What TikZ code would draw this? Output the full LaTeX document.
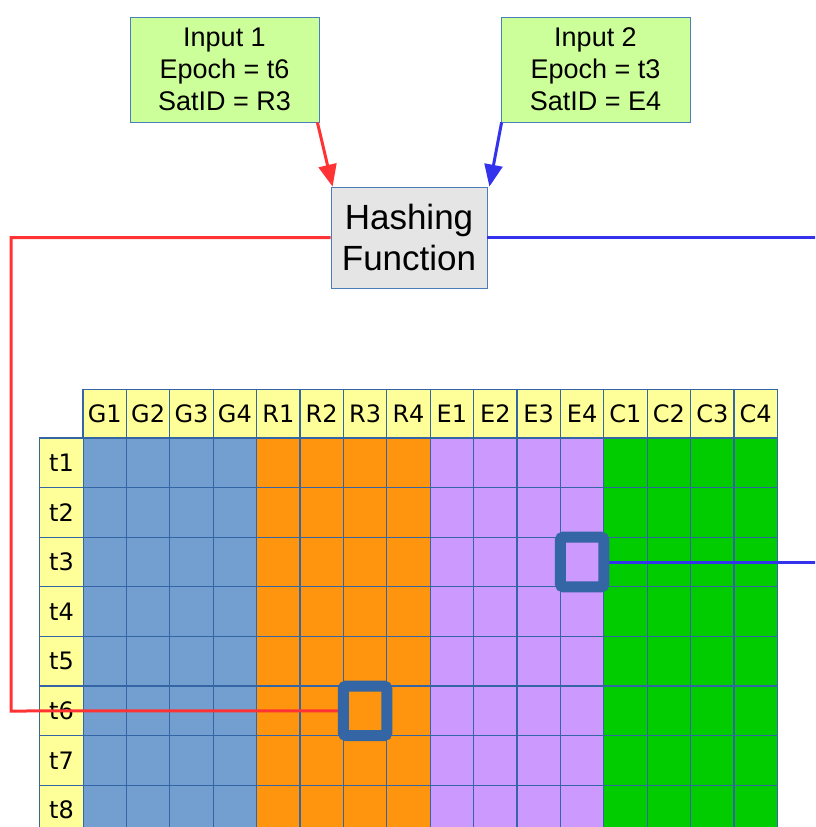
\documentclass[tikz,border=0pt]{standalone}
\usepackage{fontspec}
\setmainfont{Liberation Sans}
\newfontfamily\gridfont{DejaVu Sans}
\usetikzlibrary{arrows.meta}
\definecolor{inboxcol}{HTML}{CCFF99}
\definecolor{boxline}{HTML}{4A7EBB}
\definecolor{gcol}{HTML}{729FCF}
\definecolor{rcol}{HTML}{FF950E}
\definecolor{ecol}{HTML}{CC99FF}
\definecolor{ccol}{HTML}{00CC00}
\definecolor{hdrcol}{HTML}{FFFF99}
\definecolor{gridcol}{HTML}{3465A4}
\definecolor{sqcol}{HTML}{3465A4}
\definecolor{redln}{HTML}{FF3333}
\definecolor{blueln}{HTML}{3333EE}
\tikzset{
  inbox/.style={draw=boxline, line width=0.8pt, fill=inboxcol, minimum width=189pt,
    minimum height=105pt, align=center, inner sep=0pt, font=\fontsize{27}{32}\selectfont},
  hashbox/.style={draw=boxline, line width=0.8pt, fill=gray!20, minimum width=156pt,
    minimum height=101pt, align=center, inner sep=0pt, font=\fontsize{35}{41}\selectfont},
  cell/.style={draw=gridcol, line width=1.2pt, minimum width=43.4pt, minimum height=49.6pt,
    inner sep=0pt, font=\gridfont\fontsize{24}{26}\selectfont},
  hilite/.style={draw=sqcol, line width=11pt, rounded corners=3pt, minimum width=43.4pt,
    minimum height=49.6pt, inner sep=0pt},
  feed/.style={line width=3pt, -{Triangle[length=22pt,width=18pt]}},
  link/.style={line width=3pt}
}
\begin{document}
\begin{tikzpicture}[x=1pt, y=-1pt]
  \useasboundingbox (0,0) rectangle (815,827);
  \clip (0,0) rectangle (815,827);
  % inputs and hash
  \node[inbox] (in1) at (224.5,69.5) {Input 1\\Epoch = t6\\SatID = R3};
  \node[inbox] (in2) at (595.5,69.5) {Input 2\\Epoch = t3\\SatID = E4};
  \node[hashbox] (hash) at (409,237.5) {Hashing\\Function};
  \draw[feed, redln] ([xshift=-2pt]in1.south east) -- ([xshift=2pt]hash.north west);
  \draw[feed, blueln] ([xshift=1pt]in2.south west) -- ([xshift=2pt]hash.north east);
  % table
  \foreach \g/\col [count=\k from 0] in {G/gcol,R/rcol,E/ecol,C/ccol}
    \foreach \n in {1,...,4} {
      \pgfmathsetmacro{\cx}{104.7+43.4*(4*\k+\n-1)}
      \node[cell, fill=hdrcol] (h-\g\n) at (\cx,414) {\g\n};
      \foreach \r in {1,...,8}
        \node[cell, fill=\col] (c-\r-\g\n) at (\cx,413.2+49.6*\r) {};
    }
  \foreach \r in {1,...,8}
    \node[cell, fill=hdrcol] (t\r) at (61.5,413.2+49.6*\r) {t\r};
  % links
  \coordinate (rc) at (11,711);
  \coordinate (bc) at (850,400);
  \draw[link, redln] (hash.west) -| (rc) -- (c-6-R3.west);
  \draw[link, blueln] (hash.east) -| (bc) |- (c-3-E4.east);
  \node[hilite] (sq1) at (c-6-R3) {};
  \node[hilite] (sq2) at (c-3-E4) {};
\end{tikzpicture}
\end{document}
